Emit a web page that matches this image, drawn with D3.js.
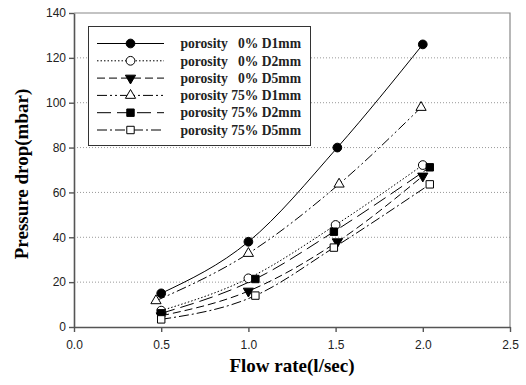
<!DOCTYPE html>
<html>
<head>
<meta charset="utf-8">
<script src="https://cdn.jsdelivr.net/npm/d3@7"></script>
<style>
  body { margin: 0; background: #fff; }
</style>
</head>
<body>
<div id="chart"></div>
<script>
// Series data
const seriesNames = [
    "porosity\u00a0\u00a0\u00a00% D1mm",
    "porosity\u00a0\u00a0\u00a00% D2mm",
    "porosity\u00a0\u00a0\u00a00% D5mm",
    "porosity 75% D1mm",
    "porosity 75% D2mm",
    "porosity 75% D5mm"
];
const d1mm0 = [[0.5, 15], [1.0, 38], [1.51, 80], [2.0, 126]];
const d2mm0 = [[0.5, 7.3], [1.0, 21.7], [1.5, 45.5], [2.0, 72.2]];
const d5mm0 = [[0.5, 5], [1.0, 16], [1.51, 38], [2.0, 67.3]];
const d1mm75 = [[0.47, 11.7], [1.0, 32.8], [1.52, 63.7], [1.99, 97.9]];
const d2mm75 = [[0.5, 6.1], [1.04, 21.4], [1.49, 42.5], [2.04, 71.2]];
const d5mm75 = [[0.5, 3.4], [1.04, 14], [1.49, 35.4], [2.04, 63.6]];
const xTicks = [0, 0.5, 1.0, 1.5, 2.0, 2.5];
const yTicks = [0, 20, 40, 60, 80, 100, 120, 140];

const allSeries = [d1mm0, d2mm0, d5mm0, d1mm75, d2mm75, d5mm75];
const dashes = [null, "1.5,2", "8,4", "10,3,2,3,2,3", "14,6", "10,3,2,3"];
const symbols = [
    { type: d3.symbolCircle, fill: "#000" },
    { type: d3.symbolCircle, fill: "#fff" },
    { type: d3.symbolTriangle, fill: "#000", rotate: 180 },
    { type: d3.symbolTriangle, fill: "#fff" },
    { type: d3.symbolSquare, fill: "#000" },
    { type: d3.symbolSquare, fill: "#fff" }
];

const width = 526;
const height = 385;
const marginLeft = 74;
const marginRight = 16;
const marginTop = 13;
const marginBottom = 58;

const svg = d3.select("#chart").append("svg")
    .attr("width", width)
    .attr("height", height);

const x = d3.scaleLinear([0, 2.5], [marginLeft, width - marginRight]);
const y = d3.scaleLinear([0, 140], [height - marginBottom, marginTop]);

// Gridlines
svg.append("g")
    .selectAll("line")
    .data(yTicks.filter(d => d > 0 && d < 140))
    .join("line")
    .attr("x1", x(0))
    .attr("x2", x(2.5))
    .attr("y1", d => y(d))
    .attr("y2", d => y(d))
    .attr("stroke", "#999")
    .attr("stroke-width", 1)
    .attr("stroke-dasharray", "1,2");

// Frame top/right
svg.append("path")
    .attr("d", `M${x(0)},${y(140)}H${x(2.5)}V${y(0)}`)
    .attr("fill", "none")
    .attr("stroke", "#888")
    .attr("stroke-width", 1.2);

// Axes
const xAxis = svg.append("g")
    .attr("transform", `translate(0,${y(0)})`)
    .call(d3.axisBottom(x).tickValues(xTicks).tickFormat(d3.format(".1f")).tickSize(5).tickSizeOuter(0));
const yAxis = svg.append("g")
    .attr("transform", `translate(${x(0)},0)`)
    .call(d3.axisLeft(y).tickValues(yTicks).tickSize(5).tickSizeOuter(0));

[xAxis, yAxis].forEach(g => {
    g.select(".domain").attr("stroke", "#555").attr("stroke-width", 1.6);
    g.selectAll(".tick line").attr("stroke", "#555").attr("stroke-width", 1.4);
    g.selectAll(".tick text")
        .attr("font-family", "Liberation Sans, Arial, sans-serif")
        .attr("font-size", "12px")
        .attr("fill", "#222");
});
xAxis.selectAll(".tick text").attr("dy", "1.2em");
yAxis.selectAll(".tick text").attr("x", -8);

// Curves
const line = d3.line()
    .x(d => x(d[0]))
    .y(d => y(d[1]))
    .curve(d3.curveMonotoneX);

allSeries.forEach((s, i) => {
    svg.append("path")
        .datum(s)
        .attr("d", line)
        .attr("fill", "none")
        .attr("stroke", "#000")
        .attr("stroke-width", 1)
        .attr("stroke-dasharray", dashes[i]);
});

function drawSymbol(g, i, cx, cy) {
    const s = symbols[i];
    const size = s.type === d3.symbolCircle ? 60 : (s.type === d3.symbolSquare ? 55 : 45);
    g.append("path")
        .attr("d", d3.symbol(s.type, size)())
        .attr("transform", `translate(${cx},${cy})${s.rotate ? " rotate(" + s.rotate + ")" : ""}`)
        .attr("fill", s.fill)
        .attr("stroke", "#000")
        .attr("stroke-width", 1);
}

// Markers (drawn in series order)
allSeries.forEach((s, i) => {
    const g = svg.append("g");
    s.forEach(d => drawSymbol(g, i, x(d[0]), y(d[1])));
});

// Legend
const legend = svg.append("g");
legend.append("rect")
    .attr("x", 88.5)
    .attr("y", 26.5)
    .attr("width", 222)
    .attr("height", 119)
    .attr("fill", "#fff")
    .attr("stroke", "#333")
    .attr("stroke-width", 1);

seriesNames.forEach((name, i) => {
    const ly = 43.5 + i * 17.3;
    legend.append("line")
        .attr("x1", 97)
        .attr("x2", 164)
        .attr("y1", ly)
        .attr("y2", ly)
        .attr("stroke", "#000")
        .attr("stroke-width", 1)
        .attr("stroke-dasharray", dashes[i]);
    drawSymbol(legend, i, 130.5, ly);
    legend.append("text")
        .attr("x", 301)
        .attr("y", ly)
        .attr("dy", "0.35em")
        .attr("text-anchor", "end")
        .attr("font-family", "Liberation Serif, Times New Roman, serif")
        .attr("font-weight", "bold")
        .attr("font-size", "13.6px")
        .attr("fill", "#222")
        .text(name);
});

// Axis titles
svg.append("text")
    .attr("x", (x(0) + x(2.5)) / 2)
    .attr("y", 372)
    .attr("text-anchor", "middle")
    .attr("font-family", "Liberation Serif, Times New Roman, serif")
    .attr("font-weight", "bold")
    .attr("font-size", "19px")
    .text("Flow rate(l/sec)");

svg.append("text")
    .attr("transform", `translate(28,${(y(0) + y(140)) / 2 + 4}) rotate(-90)`)
    .attr("text-anchor", "middle")
    .attr("font-family", "Liberation Serif, Times New Roman, serif")
    .attr("font-weight", "bold")
    .attr("font-size", "19px")
    .text("Pressure drop(mbar)");
</script>
</body>
</html>
